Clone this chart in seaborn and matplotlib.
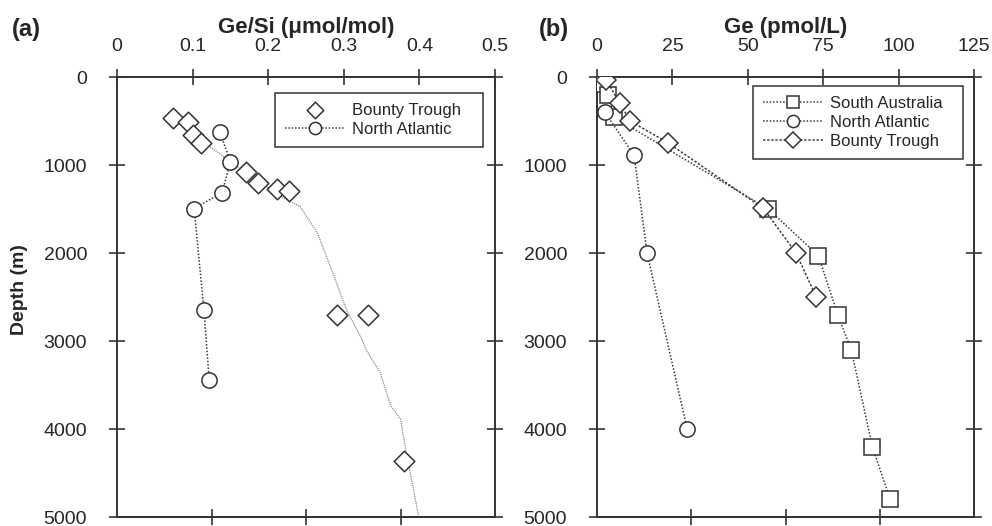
import matplotlib
matplotlib.use("Agg")
import matplotlib.pyplot as plt
import seaborn as sns
import numpy as np

# ---------------- data ----------------
# Panel (a): Ge/Si (umol/mol) vs depth (m)
bt_a_gesi = [0.074, 0.094, 0.101, 0.111, 0.170, 0.187, 0.212, 0.228, 0.291, 0.332, 0.380]
bt_a_depth = [464, 510, 657, 748, 1076, 1200, 1268, 1291, 2707, 2707, 4360]

na_a_gesi = [0.136, 0.150, 0.139, 0.102, 0.115, 0.122]
na_a_depth = [623, 963, 1314, 1495, 2650, 3443]

curve_a_gesi = [0.074, 0.100, 0.150, 0.190, 0.216, 0.242, 0.265, 0.282, 0.305,
                0.322, 0.331, 0.348, 0.362, 0.375, 0.381, 0.399]
curve_a_depth = [464, 650, 960, 1200, 1357, 1470, 1770, 2150, 2675,
                 2945, 3125, 3352, 3737, 3885, 4190, 4994]

# Panel (b): Ge (pmol/L) vs depth (m)
sa_b_ge = [1.0, 1.5, 3.6, 5.8, 56.8, 73.4, 79.8, 84.3, 91.3, 97.2]
sa_b_depth = [10, 80, 200, 460, 1500, 2030, 2700, 3100, 4200, 4800]

na_b_ge = [2.6, 12.3, 16.6, 29.9]
na_b_depth = [400, 890, 2000, 4000]

bt_b_ge = [3.0, 7.6, 11.0, 23.6, 55.1, 66.0, 72.7]
bt_b_depth = [30, 300, 500, 750, 1490, 2000, 2500]

xticks_a = [0, 0.1, 0.2, 0.3, 0.4, 0.5]
xticklabels_a = ["0", "0.1", "0.2", "0.3", "0.4", "0.5"]
xticks_b = [0, 25, 50, 75, 100, 125]
xticklabels_b = ["0", "25", "50", "75", "100", "125"]
yticks = [0, 1000, 2000, 3000, 4000, 5000]

# ---------------- style ----------------
sns.set_style("ticks")
plt.rcParams["font.family"] = ["Liberation Sans", "DejaVu Sans"]

EDGE = "#333333"
LINE = "#3a3a3a"
DOT = (0, (1.0, 1.2))

fig = plt.figure(figsize=(9.92, 5.26), dpi=100)
axa = fig.add_axes([117 / 992, 9 / 526, 378 / 992, 440 / 526])
axb = fig.add_axes([597 / 992, 9 / 526, 377 / 992, 440 / 526])

mk = dict(markerfacecolor="white", markeredgecolor=EDGE, markeredgewidth=1.1)

# ---- panel (a)
sns.lineplot(x=curve_a_gesi, y=curve_a_depth, sort=False, estimator=None, ax=axa,
             color="#8a8a8a", lw=0.9, linestyle=(0, (1, 0.8)), label="_nolegend_")
sns.scatterplot(x=bt_a_gesi, y=bt_a_depth, ax=axa, marker="D", s=110,
                facecolor="white", edgecolor=EDGE, linewidth=1.1, label="Bounty Trough", zorder=4)
sns.lineplot(x=na_a_gesi, y=na_a_depth, sort=False, estimator=None, ax=axa,
             color=LINE, lw=1.1, linestyle=DOT, marker="o", markersize=11,
             label="North Atlantic", zorder=5, **mk)

# ---- panel (b)
sns.lineplot(x=sa_b_ge, y=sa_b_depth, sort=False, estimator=None, ax=axb,
             color=LINE, lw=1.1, linestyle=DOT, marker="s", markersize=11,
             label="South Australia", zorder=5, **mk)
sns.lineplot(x=na_b_ge, y=na_b_depth, sort=False, estimator=None, ax=axb,
             color=LINE, lw=1.1, linestyle=DOT, marker="o", markersize=11,
             label="North Atlantic", zorder=5, **mk)
sns.lineplot(x=bt_b_ge, y=bt_b_depth, sort=False, estimator=None, ax=axb,
             color=LINE, lw=1.1, linestyle=(0, (1.5, 1.2)), marker="D", markersize=10.5,
             label="Bounty Trough", zorder=5, **mk)


def style_axis(ax, xmax, xticks, xlabels, xlabel):
    ax.set_xlim(0, xmax)
    ax.set_ylim(5000, 0)
    ax.xaxis.tick_top()
    ax.xaxis.set_label_position("top")
    ax.set_xticks(xticks)
    ax.set_xticklabels(xlabels)
    ax.set_yticks(yticks)
    ax.set_yticklabels([str(v) for v in yticks])
    ax.set_xlabel(xlabel, fontsize=16, fontweight="bold", labelpad=4)
    ax.set_ylabel("")
    for s in ax.spines.values():
        s.set_visible(True)
        s.set_color(EDGE)
        s.set_linewidth(1.4)
    ax.tick_params(axis="x", which="major", direction="inout", length=11, width=1.2,
                   color=EDGE, labelsize=14, pad=10, top=True, bottom=False)
    ax.tick_params(axis="y", which="major", direction="inout", length=11, width=1.2,
                   color=EDGE, labelsize=14, pad=16, left=True, right=True)
    sec = ax.secondary_xaxis("bottom", functions=(lambda x, m=xmax: x / m,
                                                   lambda t, m=xmax: t * m))
    sec.set_xticks([0.25, 0.5, 0.75])
    sec.set_xticklabels([])
    sec.tick_params(direction="inout", length=11, width=1.2, color=EDGE)
    sec.spines["bottom"].set_color(EDGE)
    sec.spines["bottom"].set_linewidth(1.4)


style_axis(axa, 0.5, xticks_a, xticklabels_a, "Ge/Si (\u03bcmol/mol)")
style_axis(axb, 125, xticks_b, xticklabels_b, "Ge (pmol/L)")

fig.text(20 / 992, 1 - 290 / 526, "Depth (m)", fontsize=14, fontweight="bold",
         rotation=90, ha="center", va="center")

leg_kw = dict(frameon=True, fancybox=False, framealpha=1, edgecolor=EDGE,
              fontsize=12, handlelength=3.6, borderpad=0.6, labelspacing=0.25,
              handletextpad=0.4, borderaxespad=0, mode="expand", loc="upper left",
              markerscale=0.8)
la = axa.legend(bbox_to_anchor=(0.418, 0.841, 0.550, 0.123), **leg_kw)
lb = axb.legend(bbox_to_anchor=(0.414, 0.820, 0.557, 0.160), **leg_kw)
for lg in (la, lb):
    lg.get_frame().set_linewidth(1.1)

fig.text(12 / 992, 1 - 36 / 526, "(a)", fontsize=17, fontweight="bold")
fig.text(539 / 992, 1 - 36 / 526, "(b)", fontsize=17, fontweight="bold")

fig.savefig("out.png", dpi=100)
